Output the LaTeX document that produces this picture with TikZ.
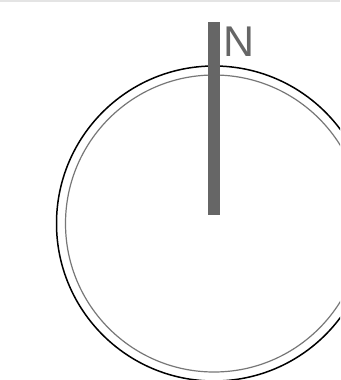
\documentclass[tikz,border=0pt]{standalone}
\usepackage{fontspec}
\setmainfont{Liberation Sans}
\definecolor{bargrey}{HTML}{666666}
\definecolor{ringgrey}{HTML}{777777}
\definecolor{edgegrey}{HTML}{E4E4E4}
\tikzset{
  outerring/.style={draw=black, line width=1.5pt},
  innerring/.style={draw=ringgrey, line width=1.2pt},
  needle/.style={fill=bargrey, draw=none},
  northlabel/.style={text=bargrey, font=\fontsize{43}{43}\selectfont, inner sep=0pt, anchor=base west}
}
\begin{document}
\begin{tikzpicture}[x=1pt,y=-1pt]
\useasboundingbox (0,0) rectangle (340,380);
\fill[white] (0,0) rectangle (340,380);
\fill[edgegrey] (0,0) rectangle (340,1.5);
\begin{scope}
\clip (0,0) rectangle (340,380);
\coordinate (c) at (214,223.5);
\draw[outerring] (c) circle[radius=157.5];
\draw[innerring] (c) circle[radius=148.5];
\end{scope}
\fill[needle] (208.2,22) rectangle (219.8,214.5);
\node[northlabel] (n) at (223.5,56) {N};
\end{tikzpicture}
\end{document}
